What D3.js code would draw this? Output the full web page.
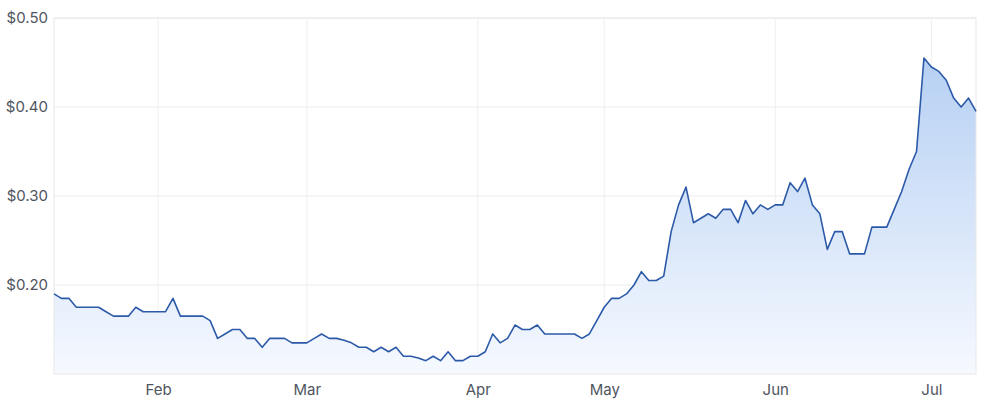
<!DOCTYPE html>
<html>
<head>
<meta charset="utf-8">
<script src="https://cdn.jsdelivr.net/npm/d3@7"></script>
<style>
    body { margin: 0; background: #fff; }
    text { font-family: Inter, "Noto Sans", sans-serif; }
</style>
</head>
<body>
<div id="chart"></div>
<script>
// closing price per trading day
const prices = [
    0.19, 0.185, 0.185, 0.175, 0.175, 0.175, 0.175, 0.17, 0.165, 0.165,
    0.165, 0.175, 0.17, 0.17, 0.17, 0.17, 0.185, 0.165, 0.165, 0.165,
    0.165, 0.16, 0.14, 0.145, 0.15, 0.15, 0.14, 0.14, 0.13, 0.14,
    0.14, 0.14, 0.135, 0.135, 0.135, 0.14, 0.145, 0.14, 0.14, 0.138,
    0.135, 0.13, 0.13, 0.125, 0.13, 0.125, 0.13, 0.12, 0.12, 0.118,
    0.115, 0.12, 0.115, 0.125, 0.115, 0.115, 0.12, 0.12, 0.125, 0.145,
    0.135, 0.14, 0.155, 0.15, 0.15, 0.155, 0.145, 0.145, 0.145, 0.145,
    0.145, 0.14, 0.145, 0.16, 0.175, 0.185, 0.185, 0.19, 0.20, 0.215,
    0.205, 0.205, 0.21, 0.26, 0.29, 0.31, 0.27, 0.275, 0.28, 0.275,
    0.285, 0.285, 0.27, 0.295, 0.28, 0.29, 0.285, 0.29, 0.29, 0.315,
    0.305, 0.32, 0.29, 0.28, 0.24, 0.26, 0.26, 0.235, 0.235, 0.235,
    0.265, 0.265, 0.265, 0.285, 0.305, 0.33, 0.35, 0.455, 0.445, 0.44,
    0.43, 0.41, 0.40, 0.41, 0.395
];

// first trading day of each month (index into prices)
const monthLabels = ["Feb", "Mar", "Apr", "May", "Jun", "Jul"];
const monthIndex = [14, 34, 57, 74, 97, 118];

const priceTicks = [0.2, 0.3, 0.4, 0.5];
const priceDomain = [0.10, 0.50];

const width = 1000;
const height = 404;
const margin = {top: 18, right: 24, bottom: 30, left: 54};

let svg = d3.select('#chart')
    .append('svg')
    .attr('width', width)
    .attr('height', height);

let x = d3.scaleLinear()
    .domain([0, prices.length - 1])
    .range([margin.left, width - margin.right]);

let y = d3.scaleLinear()
    .domain(priceDomain)
    .range([height - margin.bottom, margin.top]);

// gradient for the area fill
let defs = svg.append('defs');
let grad = defs.append('linearGradient')
    .attr('id', 'fillGrad')
    .attr('gradientUnits', 'userSpaceOnUse')
    .attr('x1', 0).attr('x2', 0)
    .attr('y1', y(d3.max(prices))).attr('y2', y(priceDomain[0]));
grad.append('stop').attr('offset', '0%').attr('stop-color', '#b6d0f3');
grad.append('stop').attr('offset', '100%').attr('stop-color', '#f6f9ff');

// grid
svg.append('g')
    .selectAll('line')
    .data(priceTicks)
    .enter().append('line')
    .attr('x1', x.range()[0])
    .attr('x2', x.range()[1])
    .attr('y1', d => y(d))
    .attr('y2', d => y(d))
    .style('stroke', '#ececec');

svg.append('g')
    .selectAll('line')
    .data(monthIndex)
    .enter().append('line')
    .attr('x1', d => x(d))
    .attr('x2', d => x(d))
    .attr('y1', y.range()[1])
    .attr('y2', y.range()[0])
    .style('stroke', '#efefef');

// area + line
let area = d3.area()
    .x((d, i) => x(i))
    .y0(y(priceDomain[0]))
    .y1(d => y(d));

let line = d3.line()
    .x((d, i) => x(i))
    .y(d => y(d));

svg.append('path')
    .datum(prices)
    .attr('d', area)
    .style('fill', 'url(#fillGrad)');

// plot border
svg.append('rect')
    .attr('x', x.range()[0])
    .attr('y', y.range()[1])
    .attr('width', x.range()[1] - x.range()[0])
    .attr('height', y.range()[0] - y.range()[1])
    .style('fill', 'none')
    .style('stroke', '#e8e8e8');

svg.append('path')
    .datum(prices)
    .attr('d', line)
    .style('fill', 'none')
    .style('stroke', '#2c5aa8')
    .style('stroke-width', 1.6)
    .style('stroke-linejoin', 'round');

// axes
let yAxis = d3.axisLeft(y)
    .tickValues(priceTicks)
    .tickFormat(d => '$' + d.toFixed(2))
    .tickSize(0)
    .tickPadding(6);

let gy = svg.append('g')
    .attr('transform', `translate(${margin.left},0)`)
    .call(yAxis);
gy.select('.domain').remove();
gy.selectAll('text')
    .style('font-size', '15px')
    .style('fill', '#50555e')
    .style('font-family', 'Inter, "Noto Sans", sans-serif');

let xAxis = d3.axisBottom(x)
    .tickValues(monthIndex)
    .tickFormat((d, i) => monthLabels[i])
    .tickSize(0)
    .tickPadding(10);

let gx = svg.append('g')
    .attr('transform', `translate(0,${height - margin.bottom})`)
    .call(xAxis);
gx.select('.domain').remove();
gx.selectAll('text')
    .style('font-size', '15px')
    .style('fill', '#50555e')
    .style('font-family', 'Inter, "Noto Sans", sans-serif');
</script>
</body>
</html>
